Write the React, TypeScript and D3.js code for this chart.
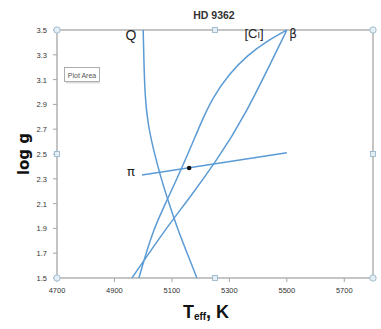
import * as d3 from 'd3';

// Teff (K) and log g
const qTeff = [5000, 5003, 5007, 5016, 5034, 5060, 5090, 5122, 5155, 5187];
const qLogg = [3.5, 3.2, 2.95, 2.75, 2.55, 2.32, 2.1, 1.88, 1.69, 1.5];

const c1Teff = [5500, 5430, 5365, 5300, 5240, 5195, 5160, 5086, 5034, 4985];
const c1Logg = [3.5, 3.41, 3.3, 3.15, 2.95, 2.72, 2.52, 2.14, 1.89, 1.5];

const betaTeff = [5500, 5347, 5250, 5163, 5076, 4961];
const betaLogg = [3.5, 2.77, 2.43, 2.15, 1.89, 1.5];

const piTeff = [4996, 5500];
const piLogg = [2.33, 2.51];

const star = { teff: 5160, logg: 2.387 };

const xTicks = [4700, 4900, 5100, 5300, 5500, 5700];
const yTicks = [1.5, 1.7, 1.9, 2.1, 2.3, 2.5, 2.7, 2.9, 3.1, 3.3, 3.5];

const W = 381;
const H = 329;
const left = 57, right = 373, top = 30, bottom = 278;

export default function App() {
  const x = d3.scaleLinear().domain([4700, 5800]).range([left, right]);
  const y = d3.scaleLinear().domain([1.5, 3.5]).range([bottom, top]);

  const line = d3.line<[number, number]>()
    .x(d => x(d[0]))
    .y(d => y(d[1]))
    .curve(d3.curveBasis);

  const zip = (a: number[], b: number[]) => a.map((v, i) => [v, b[i]] as [number, number]);
  const curves = [zip(qTeff, qLogg), zip(c1Teff, c1Logg), zip(betaTeff, betaLogg), zip(piTeff, piLogg)];

  const blue = '#5b9bd5';
  const grid = '#a6a6a6';
  const tickFont = '"Liberation Sans Narrow", "Liberation Sans", Arial, sans-serif';
  const midX = (left + right) / 2;
  const midY = (top + bottom) / 2;

  const corners = [[left, top], [right, top], [left, bottom], [right, bottom]];
  const squares = [[midX, top], [left, midY], [right, midY], [midX, bottom]];

  return (
    <svg width={W} height={H} style={{ position: 'absolute', left: 0, top: 0, background: '#fff' }}>
      {/* title */}
      <text x={214} y={19} textAnchor="middle" fontFamily="'Liberation Sans', Arial, sans-serif"
        fontWeight="bold" fontSize={10.5} fill="#333">HD 9362</text>

      {/* plot area frame */}
      <rect x={left} y={top} width={right - left} height={bottom - top} fill="none" stroke={grid} strokeWidth={1.3} />

      {/* y ticks */}
      {yTicks.map(t => (
        <g key={t}>
          <line x1={left - 4} x2={left} y1={y(t)} y2={y(t)} stroke={grid} />
          <text x={left - 10} y={y(t) + 3} textAnchor="end" fontFamily={tickFont} fontSize={7.5} fill="#333">
            {t.toFixed(1)}
          </text>
        </g>
      ))}

      {/* x ticks */}
      {xTicks.map(t => (
        <g key={t}>
          <line x1={x(t)} x2={x(t)} y1={bottom} y2={bottom + 4} stroke={grid} />
          <text x={x(t)} y={bottom + 15} textAnchor="middle" fontFamily={tickFont} fontSize={7.5} fill="#333">
            {t}
          </text>
        </g>
      ))}

      {/* curves */}
      {curves.map((c, i) => (
        <path key={i} d={line(c) || ''} fill="none" stroke={blue} strokeWidth={1.5} />
      ))}
      <circle cx={x(star.teff)} cy={y(star.logg)} r={2.3} fill="#111" />

      {/* curve labels */}
      <text x={131} y={40} textAnchor="middle" fontFamily="'Liberation Sans', Arial, sans-serif" fontSize={14} fill="#222">Q</text>
      <text x={254} y={38} textAnchor="middle" fontFamily="'Liberation Sans Narrow', Arial, sans-serif" fontSize={13} fill="#222">
        [C<tspan fontSize={9}>I</tspan>]
      </text>
      <text x={293} y={38} textAnchor="middle" fontFamily="'DejaVu Sans', sans-serif" fontSize={12} fill="#222">β</text>
      <text x={131} y={176} textAnchor="middle" fontFamily="'DejaVu Sans', sans-serif" fontSize={13} fill="#222">π</text>

      {/* plot area tooltip */}
      <rect x={64.5} y={67.5} width={35} height={14} fill="#fff" stroke="#999" strokeWidth={0.8} />
      <rect x={66} y={82} width={34} height={1.5} fill="#ddd" />
      <text x={82} y={77.5} textAnchor="middle" fontFamily={tickFont} fontSize={7} fill="#555">Plot Area</text>

      {/* selection handles */}
      {corners.map(([cx, cy], i) => (
        <circle key={'c' + i} cx={cx} cy={cy} r={3.2} fill="#e4eef5" stroke="#8fb0c4" strokeWidth={0.8} />
      ))}
      {squares.map(([sx, sy], i) => (
        <rect key={'s' + i} x={sx - 2.5} y={sy - 2.5} width={5} height={5} fill="#e4eef5" stroke="#8fb0c4" strokeWidth={0.8} />
      ))}

      {/* axis titles */}
      <text transform={`translate(29,${midY}) rotate(-90)`} textAnchor="middle"
        fontFamily="'DejaVu Sans', Arial, sans-serif" fontWeight="bold" fontSize={15} fill="#111">log g</text>
      <text x={206} y={318} textAnchor="middle" fontFamily="'Liberation Sans', Arial, sans-serif" fontWeight="bold" fill="#111">
        <tspan fontSize={18}>T</tspan><tspan fontSize={10} dy={2}>eff</tspan><tspan fontSize={18} dy={-2}>, K</tspan>
      </text>
    </svg>
  );
}
